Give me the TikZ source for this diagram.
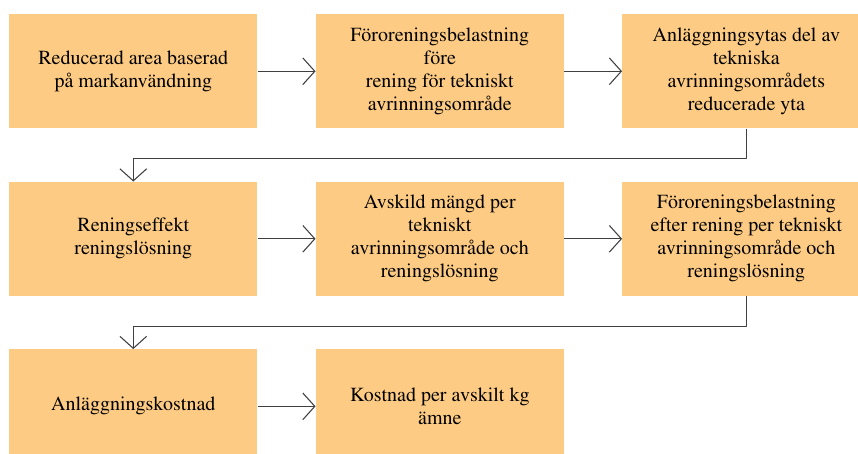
\documentclass[tikz,border=0pt]{standalone}
\usepackage[T1]{fontenc}
\usepackage{times}
\usetikzlibrary{positioning,arrows.meta}
\definecolor{boxfill}{RGB}{253,203,131}
\definecolor{linegray}{RGB}{64,64,64}
\begin{document}
\begin{tikzpicture}[font=\rmfamily\fontsize{15}{17.25}\selectfont, line join=round,
	stepbox/.style={fill=boxfill, draw=none, align=center, minimum width=186pt, minimum height=85.5pt, inner sep=0pt},
	flow/.style={draw=linegray, line width=1pt, -{Straight Barb[length=9pt, width=20pt, line width=0.8pt]}},
	node distance=39.75pt and 43.5pt]
	\def\W{643.5pt}
	\def\H{340.5pt}
	\useasboundingbox (0,0) rectangle (\W,-\H);
	\clip (0,0) rectangle (\W,-\H);
	% first row
	\node[stepbox, anchor=north west] (area) at (6.75pt,-10.5pt) {Reducerad area baserad\\på markanvändning};
	\node[stepbox, right=of area] (fore) {Föroreningsbelastning\\före\\rening för tekniskt\\avrinningsområde};
	\node[stepbox, right=of fore] (yta) {Anläggningsytas del av\\tekniska\\avrinningsområdets\\reducerade yta};
	% second row
	\node[stepbox, below=of area] (effekt) {Reningseffekt\\reningslösning};
	\node[stepbox, right=of effekt] (avskild) {Avskild mängd per\\tekniskt\\avrinningsområde och\\reningslösning};
	\node[stepbox, right=of avskild] (efter) {Föroreningsbelastning\\efter rening per tekniskt\\avrinningsområde och\\reningslösning};
	% third row
	\node[stepbox, below=of effekt] (kostnad) {Anläggningskostnad};
	\node[stepbox, right=of kostnad] (perkg) {Kostnad per avskilt kg\\ämne};
	\draw[flow] (area) -- (fore);
	\draw[flow] (fore) -- (yta);
	\draw[flow] (yta.south) -- ++(0,-22.5pt) -| (effekt.north);
	\draw[flow] (effekt) -- (avskild);
	\draw[flow] (avskild) -- (efter);
	\draw[flow] (efter.south) -- ++(0,-23pt) -| (kostnad.north);
	\draw[flow] (kostnad) -- (perkg);
\end{tikzpicture}
\end{document}
